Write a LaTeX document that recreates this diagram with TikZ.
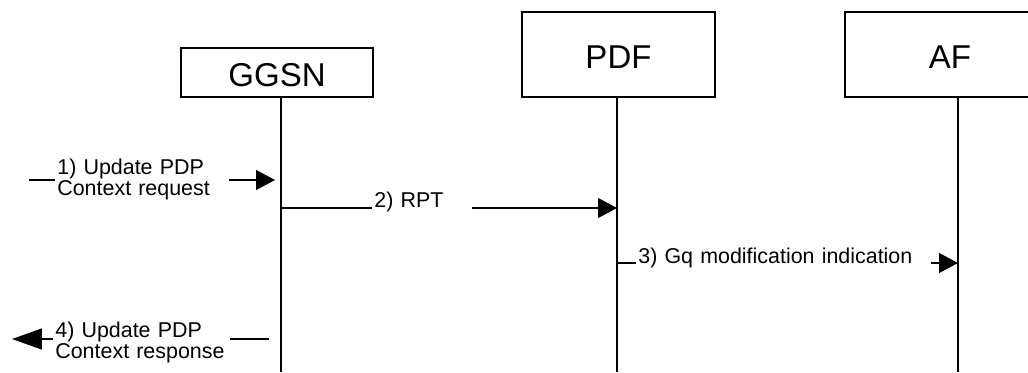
\documentclass[tikz,border=0pt]{standalone}
\usepackage{fontspec}
\setmainfont{Liberation Sans}
\usetikzlibrary{arrows.meta}
\tikzset{
  entity/.style={
	draw, line width=0.8pt, % the boxes at the top
	minimum width=3.86cm, minimum height=1.7cm,
	font=\fontsize{18.8}{22}\selectfont,
	text height=0.55cm, text depth=0cm,
  },
  lifeline/.style={line width=1pt},
  msg/.style={line width=0.7pt, -{Triangle[length=0.38cm, width=0.4cm]}}, % message arrows
  msgtext/.style={
	fill=white, align=left, % hides the middle of the arrow
	inner xsep=0.04cm, inner ysep=0.06cm,
	font=\fontsize{12.2}{12}\selectfont,
  },
}
\begin{document}
\begin{tikzpicture}[x=0.02cm, y=-0.02cm]
\useasboundingbox (0,0) rectangle (1028,372);

\node[entity, minimum width=3.84cm, minimum height=0.98cm] (GGSN) at (277,72.5) {GGSN};
\node[entity] (PDF) at (618.5,54.5) {PDF};
\node[entity, minimum width=4.2cm] (AF) at (950,54.5) {AF};

\coordinate (g0) at (281,97);  \coordinate (g1) at (281,372);
\coordinate (p0) at (617,97);  \coordinate (p1) at (617,372);
\coordinate (a0) at (958,97);  \coordinate (a1) at (958,372);
\draw[lifeline] (g0) -- (g1) (p0) -- (p1) (a0) -- (a1);

\coordinate (m1s) at (29,180);  \coordinate (m1e) at (275,180);
\coordinate (m2s) at (281,208); \coordinate (m2e) at (617,208);
\coordinate (m3s) at (617,263); \coordinate (m3e) at (958,263);
\coordinate (m4s) at (269,339); \coordinate (m4e) at (12,339);

\draw[msg] (m1s) -- (m1e);
\draw[msg] (m2s) -- (m2e);
\draw[msg] (m3s) -- (m3e);
\draw[msg, -{Triangle[length=0.6cm, width=0.42cm]}] (m4s) -- (m4e);

\node[msgtext, text width=3.4cm, anchor=west] (t1) at (55,179) {1) Update PDP\\Context request};
\node[msgtext, text width=1.92cm, anchor=base west] (t2) at (372,207) {2) RPT};
\node[msgtext, text width=5.82cm, anchor=base west] (t3) at (636,263) {3) Gq modification indication};
\node[msgtext, text width=3.46cm, anchor=west] (t4) at (53,342) {4) Update PDP\\Context response};
\end{tikzpicture}
\end{document}
